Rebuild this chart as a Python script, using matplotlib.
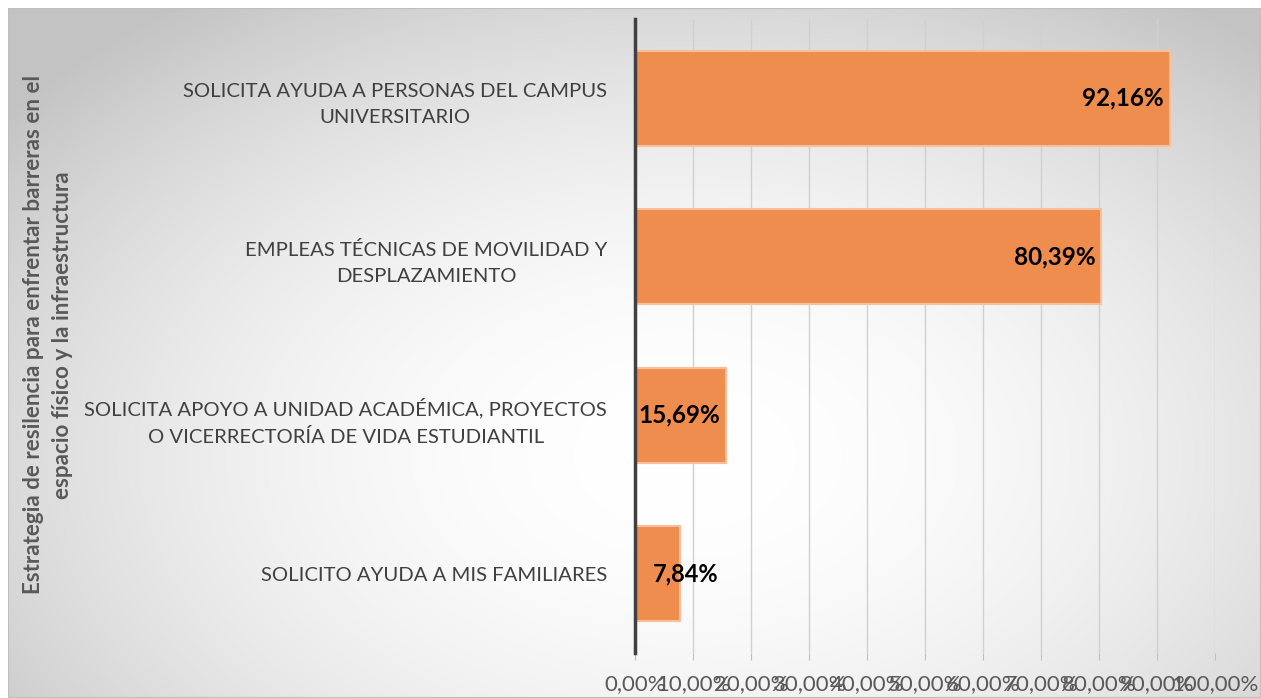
import numpy as np
import matplotlib
matplotlib.use("Agg")
import matplotlib.pyplot as plt
from matplotlib.patches import Rectangle

categories = [
    "SOLICITO AYUDA A MIS FAMILIARES",
    "SOLICITA APOYO A UNIDAD ACADÉMICA, PROYECTOS\nO VICERRECTORÍA DE VIDA ESTUDIANTIL",
    "EMPLEAS TÉCNICAS DE MOVILIDAD Y\nDESPLAZAMIENTO",
    "SOLICITA AYUDA A PERSONAS DEL CAMPUS\nUNIVERSITARIO",
]
values = [7.84, 15.69, 80.39, 92.16]
value_labels = ["7,84%", "15,69%", "80,39%", "92,16%"]
xticks = np.arange(0, 101, 10)
xticklabels = ["%d,00%%" % t for t in xticks]
ylabel = "Estrategia de resilencia para enfrentar barreras en el\nespacio físico y la infraestructura"

plt.rcParams['font.family'] = ['Lato', 'DejaVu Sans']

W, H = 1261, 698
fig = plt.figure(figsize=(W / 100, H / 100), dpi=100)
fig.patch.set_facecolor("white")

# radial grey gradient background
bg = fig.add_axes([8 / W, 0, 1 - 8 / W, 1 - 8 / H])
bg.set_axis_off()
yy, xx = np.mgrid[0:300, 0:540]
dx = (xx / 539 - 0.54) / 0.55
dy = (yy / 299 - 0.65) / 0.65
r = np.clip(np.sqrt(dx ** 2 + dy ** 2), 0, 1.25)
shade = 1 - 0.15 * r ** 2
bg.imshow(np.dstack([shade] * 3), aspect="auto", extent=[0, 1, 0, 1], origin="upper")
bg.set_xlim(0, 1)
bg.set_ylim(0, 1)
bg.add_patch(Rectangle((0, 0), 1, 1, fill=False, edgecolor="#bfbfbf", lw=1.5))

ax = fig.add_axes([635 / W, 1 - 653 / H, 580 / W, 634 / H])
ax.patch.set_alpha(0)

pos = np.arange(len(categories))
ax.barh(pos, values, height=0.6, color="#ee8d4e", edgecolor="#f6c09a", linewidth=1.5, zorder=3)

for p, v, lab in zip(pos, values, value_labels):
    if v < 10:
        ax.annotate(lab, (0, p), xytext=(13, 0), textcoords="offset points",
                    ha="left", va="center", fontsize=17, fontweight="bold", color="black", zorder=4)
    else:
        ax.annotate(lab, (v, p), xytext=(-4, 0), textcoords="offset points",
                    ha="right", va="center", fontsize=17.5, fontweight="bold", color="black", zorder=4)

ax.set_xlim(0, 100)
ax.set_ylim(-0.5, len(categories) - 0.5)
ax.set_xticks(xticks)
ax.set_xticklabels(xticklabels, fontsize=16, color="#595959")
ax.set_yticks(pos)
ax.set_yticklabels(categories, fontsize=14.6, color="#404040")
for lab in ax.get_yticklabels():
    lab.set_multialignment("center")
    lab.set_linespacing(1.65)
ax.tick_params(axis="y", length=0, pad=20)
ax.tick_params(axis="x", length=5, color="#bfbfbf", pad=10)
ax.grid(axis="x", color="#d0d0d0", lw=1, zorder=0)
for s in ["top", "right", "bottom"]:
    ax.spines[s].set_visible(False)
ax.spines["left"].set_color("#404040")
ax.spines["left"].set_linewidth(2.5)
ax.spines["left"].set_zorder(5)

fig.text(48 / W, 1 - 335 / H, ylabel, rotation=90, ha="center", va="center",
         multialignment="center", linespacing=1.5, fontsize=16.1, fontweight="bold", color="#595959")

fig.savefig("out.png", dpi=100)
